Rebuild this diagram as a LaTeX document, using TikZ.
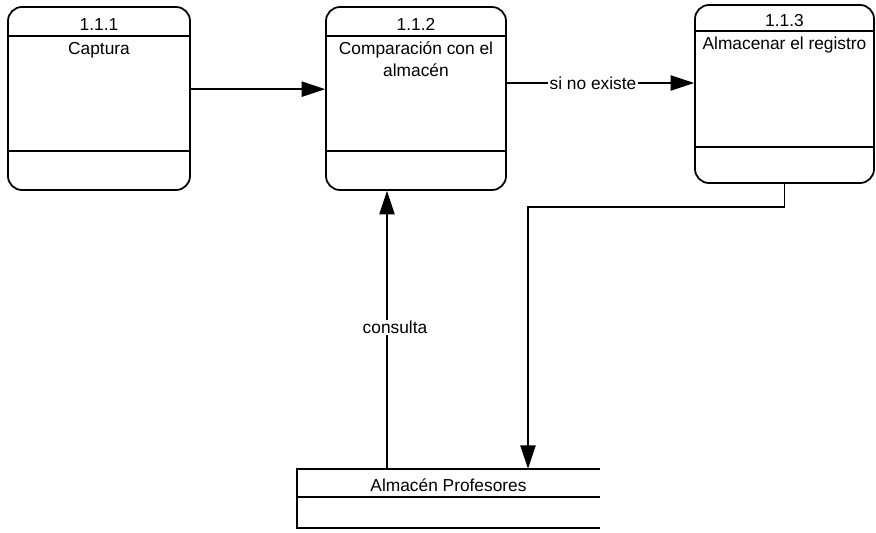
\documentclass[tikz,border=0pt]{standalone}
\usepackage{fontspec}
\setmainfont{Liberation Sans}
\usetikzlibrary{arrows.meta}
\tikzstyle{process} = [rectangle, rounded corners=0.42cm, minimum width=5.4cm, minimum height=5.49cm, draw=black, line width=1.5pt]
\tikzstyle{flowtext} = [anchor=north, align=center]
\tikzstyle{arrow} = [line width=1.4pt, -{Triangle[length=20pt,width=13pt]}]

\begin{document}
\begin{tikzpicture}[font=\fontsize{14.8}{18.5}\selectfont]

    \useasboundingbox (0,0) rectangle (26.28,-15.96);

    \node (cap) [process, minimum width=5.46cm] at (2.97,-2.955) {};

    \node (comp) [process, right of=cap, xshift=8.51cm] {};

    \node (exist) [process, right of=comp, xshift=10.055cm, yshift=0.135cm, minimum width=5.37cm, minimum height=5.34cm] {};

    \foreach \b/\h/\l in {cap/0.9/1.2, comp/0.9/1.2, exist/0.81/1.11} {
        \draw[line width=1.5pt] ([yshift=-\h cm]\b.north west) -- ([yshift=-\h cm]\b.north east);
        \draw[line width=1.5pt] ([yshift=\l cm]\b.south west) -- ([yshift=\l cm]\b.south east);
    }

    \node (capid) at ([yshift=-0.54cm]cap.north) {1.1.1};
    \node (captxt) [flowtext] at ([yshift=-0.95cm]cap.north) {Captura};

    \node (compid) at ([yshift=-0.54cm]comp.north) {1.1.2};
    \node (comptxt) [flowtext] at ([yshift=-0.95cm]comp.north) {Comparación con el\\almacén};

    \node (existid) at ([yshift=-0.48cm]exist.north) {1.1.3};
    \node (existtxt) [flowtext] at ([yshift=-0.86cm]exist.north) {Almacenar el registro};

    % almacen (abierto a la derecha)
    \node (store) [minimum width=9.09cm, minimum height=1.77cm, inner sep=0pt] at (13.455,-14.955) {};
    \draw[line width=1.5pt] (store.north east) -- (store.north west) -- (store.south west) -- (store.south east);
    \draw[line width=1.5pt] ([yshift=-0.84cm]store.north west) -- ([yshift=-0.84cm]store.north east);
    \node (storetxt) at ([yshift=-0.48cm]store.north) {Almacén Profesores};

    \draw[arrow] ([yshift=0.28cm]cap.east) -- ([yshift=0.28cm]comp.west);

    \coordinate (out) at ([yshift=0.465cm]comp.east);
    \draw[arrow] (out) -- (out -| exist.west) node (noexiste) [pos=0.46, fill=white, inner sep=1pt] {si no existe};

    \coordinate (turn) at (15.84,-6.21);
    \draw[arrow] (exist.south) |- (turn) -- (turn |- store.north);

    \coordinate (ask) at ([xshift=-0.87cm]comp.south);
    \draw[arrow] (ask |- store.north) -- (ask) node (consulta) [pos=0.51, fill=white, xshift=0.24cm, inner sep=1pt] {consulta};

\end{tikzpicture}
\end{document}
